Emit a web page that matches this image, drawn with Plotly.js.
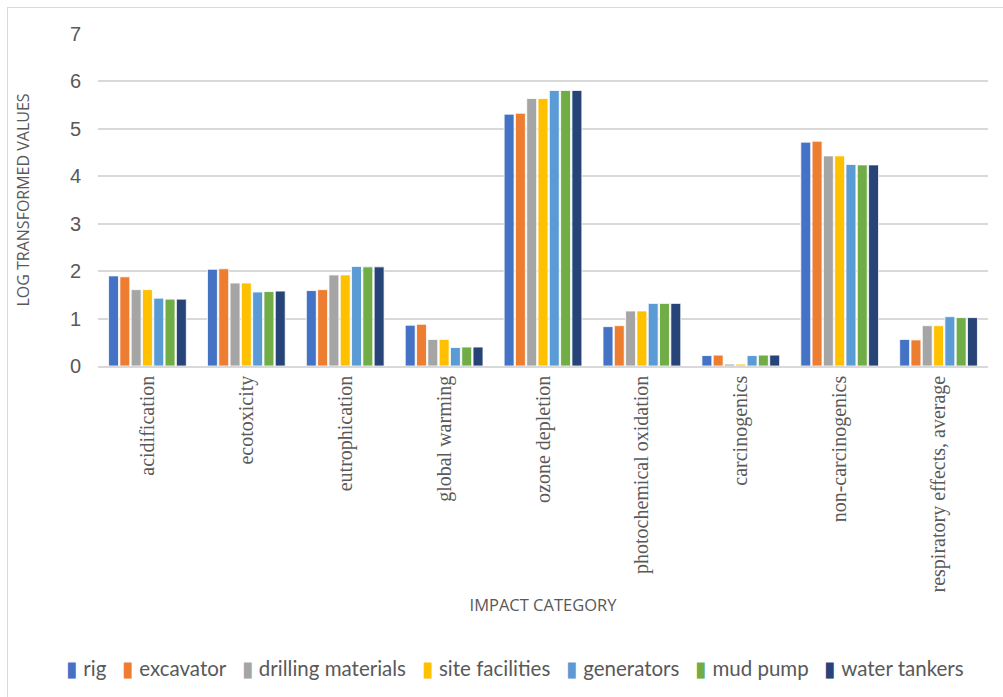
<!DOCTYPE html>
<html>
<head>
<meta charset="utf-8">
<script src="https://cdn.plot.ly/plotly-3.0.1.min.js"></script>
<style>
html,body{margin:0;padding:0;background:#fff;}
#frame{position:absolute;left:7px;top:7px;width:1010px;height:700px;border:1px solid #d9d9d9;box-sizing:border-box;}
#chart{position:absolute;left:0;top:0;width:1003px;height:697px;}
</style>
</head>
<body>
<div id="frame"></div>
<div id="chart"></div>
<script>
const categories = ["acidification","ecotoxicity","eutrophication","global warming","ozone depletion","photochemical oxidation","carcinogenics","non-carcinogenics","respiratory effects, average"];
const seriesNames = ["rig","excavator","drilling materials","site facilities","generators","mud pump","water tankers"];
const rig               = [1.90, 2.04, 1.59, 0.86, 5.31, 0.83, 0.22, 4.72, 0.56];
const excavator         = [1.88, 2.05, 1.61, 0.88, 5.33, 0.85, 0.23, 4.74, 0.55];
const drillingMaterials = [1.61, 1.75, 1.92, 0.56, 5.64, 1.16, 0.04, 4.43, 0.85];
const siteFacilities    = [1.61, 1.75, 1.92, 0.56, 5.64, 1.16, 0.04, 4.43, 0.85];
const generators        = [1.43, 1.56, 2.10, 0.39, 5.81, 1.32, 0.22, 4.25, 1.04];
const mudPump           = [1.41, 1.57, 2.09, 0.40, 5.81, 1.32, 0.23, 4.24, 1.02];
const waterTankers      = [1.41, 1.58, 2.09, 0.40, 5.81, 1.32, 0.23, 4.24, 1.02];
const yTicks = [0,1,2,3,4,5,6,7];

const seriesValues = [rig, excavator, drillingMaterials, siteFacilities, generators, mudPump, waterTankers];
const colors = ["#4472C4","#ED7D31","#A5A5A5","#FFC000","#5B9BD5","#70AD47","#264478"];

const traces = seriesNames.map((n,i)=>({
  type:"bar", name:n, x:categories, y:seriesValues[i],
  marker:{color:colors[i], line:{color:"rgba(255,255,255,0.8)", width:1}},
  hoverinfo:"x+y+name"
}));

// legend row (Excel-style compact legend), built from the series names and colours
const legendText = seriesNames.map((n,i)=>
  `<span style="color:${colors[i]}">▮</span>&nbsp;${n}`).join("&nbsp;&nbsp;&nbsp;");

const layout = {
  width:1003, height:697,
  paper_bgcolor:"rgba(0,0,0,0)", plot_bgcolor:"rgba(0,0,0,0)",
  margin:{l:98, r:15, t:34, b:331, autoexpand:false},
  barmode:"group", bargap:0.2, bargroupgap:0.12,
  showlegend:false,
  annotations:[{
    text:legendText, xref:"paper", yref:"paper", x:0.4685, y:-0.9096,
    xanchor:"center", yanchor:"middle", showarrow:false,
    font:{family:"Lato, sans-serif", size:20.5, color:"#595959"}
  }],
  xaxis:{
    type:"category", tickangle:-90, automargin:false,
    tickfont:{family:"Liberation Serif, Times New Roman, serif", size:20, color:"#595959"},
    showline:true, linecolor:"#d9d9d9", linewidth:1.5, ticks:"", showgrid:false,
    title:{text:"IMPACT CATEGORY", standoff:8, font:{family:"Open Sans, sans-serif", size:16.5, color:"#595959"}}
  },
  yaxis:{
    range:[0,7], tickvals:yTicks, ticktext:yTicks.map(String), automargin:false,
    tickfont:{family:"Liberation Sans, Arial, sans-serif", size:20, color:"#595959"},
    showgrid:true, gridcolor:"#d9d9d9", gridwidth:1.5, zeroline:false, showline:false, ticks:"",
    ticklabelstandoff:16,
    title:{text:"LOG TRANSFORMED VALUES", standoff:36, font:{family:"Open Sans, sans-serif", size:16, color:"#595959"}}
  }
};
Plotly.newPlot("chart", traces, layout, {displayModeBar:false});
</script>
</body>
</html>
